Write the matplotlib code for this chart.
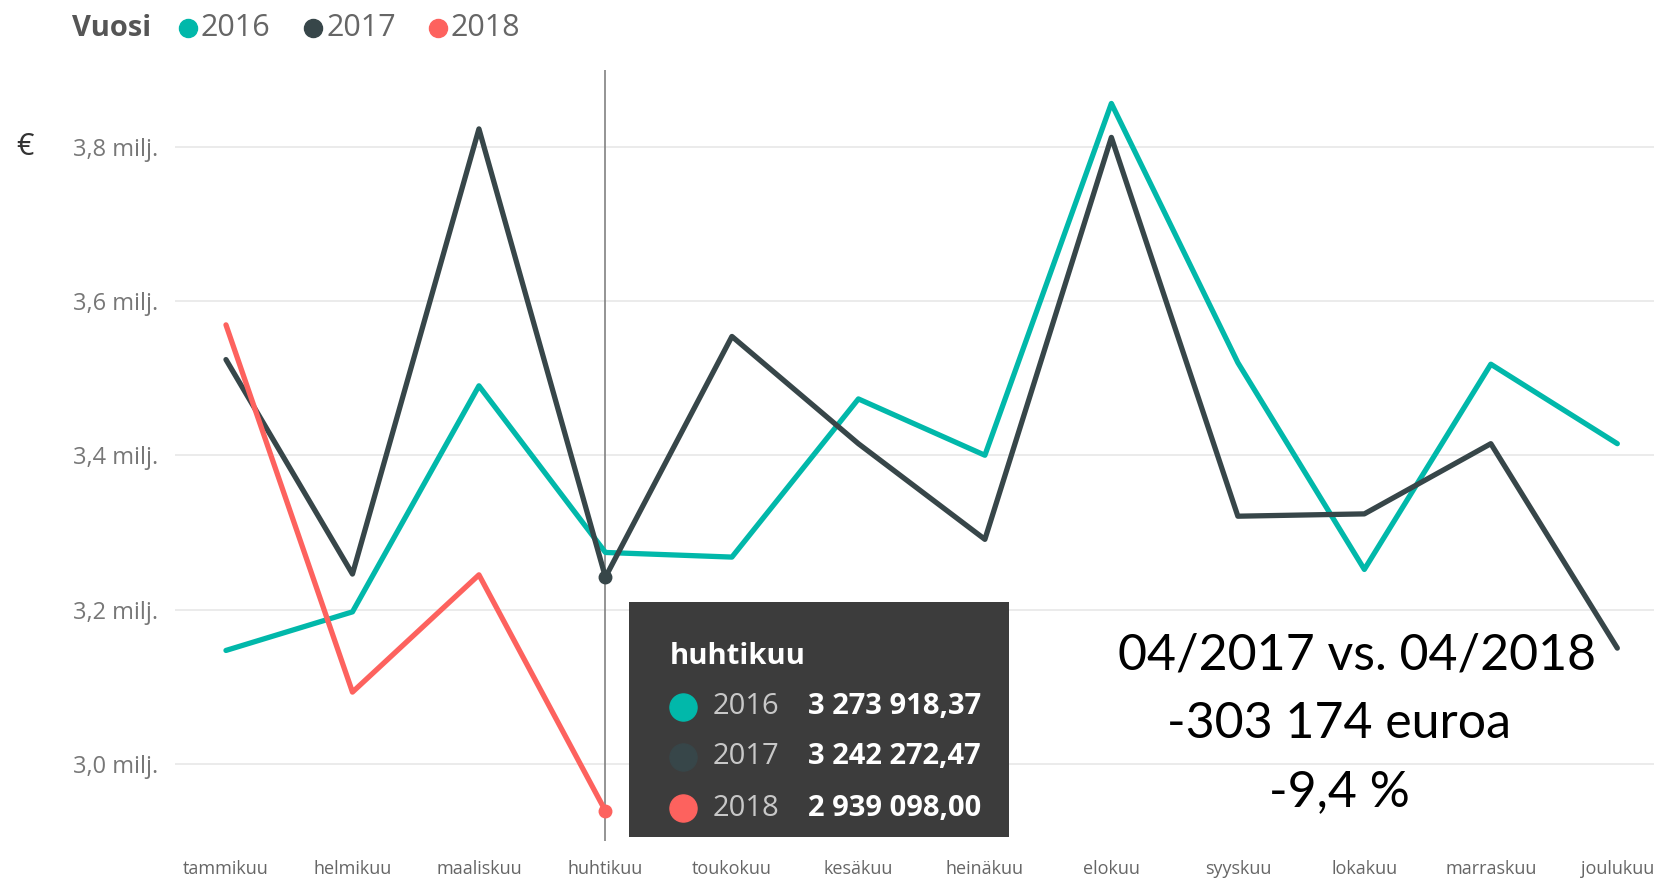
import matplotlib.pyplot as plt
from matplotlib.lines import Line2D
from matplotlib.patches import Rectangle

months = ['tammikuu', 'helmikuu', 'maaliskuu', 'huhtikuu', 'toukokuu', 'kesäkuu',
          'heinäkuu', 'elokuu', 'syyskuu', 'lokakuu', 'marraskuu', 'joulukuu']
v2016 = [3.147, 3.197, 3.490, 3.274, 3.268, 3.473, 3.400, 3.856, 3.520, 3.252, 3.518, 3.415]
v2017 = [3.524, 3.246, 3.823, 3.242, 3.554, 3.415, 3.291, 3.812, 3.321, 3.324, 3.415, 3.150]
v2018 = [3.569, 3.093, 3.245, 2.939]
yticks = [3.0, 3.2, 3.4, 3.6, 3.8]
ytick_labels = ['3,0 milj.', '3,2 milj.', '3,4 milj.', '3,6 milj.', '3,8 milj.']
tip_years = ['2016', '2017', '2018']
tip_values = ['3 273 918,37', '3 242 272,47', '2 939 098,00']

c16 = '#01B8AA'
c17 = '#374649'
c18 = '#FD625E'
colors = [c16, c17, c18]

plt.rcParams['font.family'] = ['Open Sans', 'DejaVu Sans']

W, H = 1654, 882
fig = plt.figure(figsize=(16.54, 8.82), dpi=100)
ax = fig.add_axes([175 / W, 1 - 841 / H, 1 - 175 / W, (841 - 69.5) / H])

x = list(range(len(months)))
ax.plot(x, v2016, color=c16, lw=3.8, solid_capstyle='round', solid_joinstyle='round', zorder=3)
ax.plot(x, v2017, color=c17, lw=3.8, solid_capstyle='round', solid_joinstyle='round', zorder=3)
ax.plot(x[:len(v2018)], v2018, color=c18, lw=3.8, solid_capstyle='round', solid_joinstyle='round', zorder=3)

# hover line + dots at huhtikuu
ax.axvline(3, color='#777777', lw=1.1, zorder=2)
ax.plot([3], [v2017[3]], 'o', color=c17, ms=9, zorder=4)
ax.plot([3], [v2018[3]], 'o', color=c18, ms=9, zorder=4)

ax.set_xlim(-0.403, 11.29)
ax.set_ylim(2.9, 3.9)
ax.set_yticks(yticks)
ax.set_yticklabels(ytick_labels)
ax.set_xticks(x)
ax.set_xticklabels(months)
ax.grid(axis='y', color='#e9e9e9', lw=1.3)
ax.set_axisbelow(True)
for s in ax.spines.values():
    s.set_visible(False)
ax.tick_params(axis='y', length=0, pad=12, labelsize=17, labelcolor='#777777')
ax.tick_params(axis='x', length=0, pad=14, labelsize=13, labelcolor='#666666')

# legend
ly = 1 - 28 / H
fig.text(72 / W, ly, 'Vuosi', fontsize=21, fontweight='bold', color='#555555', va='center')
lx = [188, 313, 438]
for i, yr in enumerate(tip_years):
    fig.add_artist(Line2D([lx[i] / W], [ly], marker='o', ms=13, color=colors[i],
                          linestyle='none', transform=fig.transFigure))
    fig.text((lx[i] + 13) / W, ly, yr, fontsize=22, color='#666666', va='center')

fig.text(25 / W, 1 - 147 / H, '€', fontsize=22, color='#333333', va='center', ha='center')

# tooltip
fig.add_artist(Rectangle((629 / W, 1 - 837 / H), 380 / W, 235 / H, transform=fig.transFigure,
                         facecolor='#3c3c3c', edgecolor='none', zorder=10))
fig.text(670 / W, 1 - 656 / H, 'huhtikuu', fontsize=21, fontweight='bold', color='white',
         va='center', zorder=11)
rows_y = [707, 757, 808]
for i in range(3):
    yy = 1 - rows_y[i] / H
    fig.add_artist(Line2D([683 / W], [yy], marker='o', ms=19.5, color=colors[i],
                          linestyle='none', transform=fig.transFigure, zorder=11))
    fig.text(713 / W, yy, tip_years[i], fontsize=21, color='#c8c8c8', va='center', zorder=11)
    fig.text(808 / W, yy, tip_values[i], fontsize=21, fontweight='bold', color='white',
             va='center', zorder=11)

# annotation
fig.text(1357 / W, 1 - 670 / H, '04/2017 vs. 04/2018', fontsize=36, family='Lato', color='black',
         ha='center', va='baseline')
fig.text(1339 / W, 1 - 738 / H, '-303 174 euroa', fontsize=36, family='Lato', color='black',
         ha='center', va='baseline')
fig.text(1339 / W, 1 - 806 / H, '-9,4 %', fontsize=36, family='Lato', color='black',
         ha='center', va='baseline')

fig.savefig('out.png', dpi=100)
